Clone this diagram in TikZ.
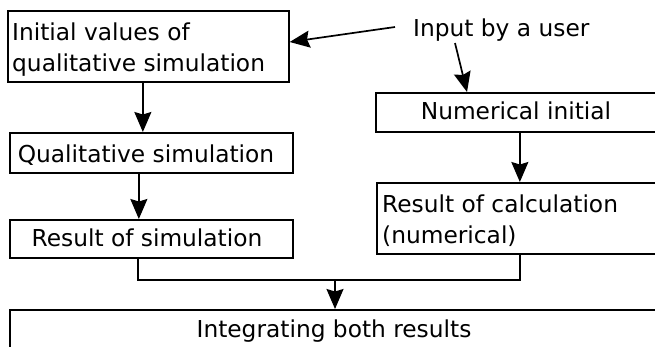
\documentclass[tikz,border=0pt]{standalone}
\usepackage{fontspec}
\setmainfont{DejaVu Sans}
\usetikzlibrary{arrows.meta}
\begin{document}
\begin{tikzpicture}[x=1pt,y=-1pt,
  box/.style={draw, line width=1.7pt, inner sep=0pt, anchor=north west},
  lbl/.style={inner sep=0pt, font=\fontsize{23.3}{31}\selectfont},
  arr/.style={line width=1.7pt, -{Stealth[length=20pt,width=17pt,inset=2.5pt]}},
  ln/.style={line width=1.7pt}]
\useasboundingbox (0,0) rectangle (655,346);
\clip (0,0) rectangle (655,346);
% boxes
\node[box, minimum width=281pt, minimum height=71pt] (b1) at (7,10) {};
\node[box, minimum width=283pt, minimum height=40pt] (b2) at (9,132) {};
\node[box, minimum width=283pt, minimum height=38pt] (b3) at (9,219) {};
\node[box, minimum width=300pt, minimum height=39pt] (b4) at (375,92) {};
\node[box, minimum width=300pt, minimum height=71pt] (b5) at (376,182) {};
\node[box, minimum width=700pt, minimum height=60pt] (b6) at (9,309) {};
% texts
\node[lbl, anchor=base west] (t1a) at (12,40) {Initial values of};
\node[lbl, anchor=base west] (t1b) at (12,71) {qualitative simulation};
\node[lbl, anchor=base] (t2) at (146,162) {Qualitative simulation};
\node[lbl, anchor=base] (t3) at (147,246) {Result of simulation};
\node[lbl, anchor=base] (t4) at (516,119) {Numerical initial};
\node[lbl, anchor=base west] (t5a) at (382,212) {Result of calculation};
\node[lbl, anchor=base west] (t5b) at (382,243) {(numerical)};
\node[lbl, anchor=base] (t6) at (334,337) {Integrating both results};
\node[lbl, anchor=base west] (inp) at (413,36) {Input by a user};
% connectors
\coordinate (u1) at (395,27);
\coordinate (u2) at (455,43);
\coordinate (j) at (335,280);
\draw[arr] (u1) -- (b1.east |- 0,42);
\draw[arr] (u2) -- (467,0 |- b4.north);
\draw[arr] ([xshift=-5.5pt]b1.south) -- ([xshift=-5.5pt]b1.south |- b2.north);
\draw[arr] ([xshift=-12.5pt]b2.south) -- ([xshift=-12.5pt]b2.south |- b3.north);
\draw[arr] ([xshift=-6pt]b4.south) -- ([xshift=-6pt]b4.south |- b5.north);
\draw[ln] ([xshift=-13.5pt]b3.south) |- ([xshift=-7pt]b5.south |- j) -- ([xshift=-7pt]b5.south);
\draw[arr] (j) -- (j |- b6.north);
\end{tikzpicture}
\end{document}
